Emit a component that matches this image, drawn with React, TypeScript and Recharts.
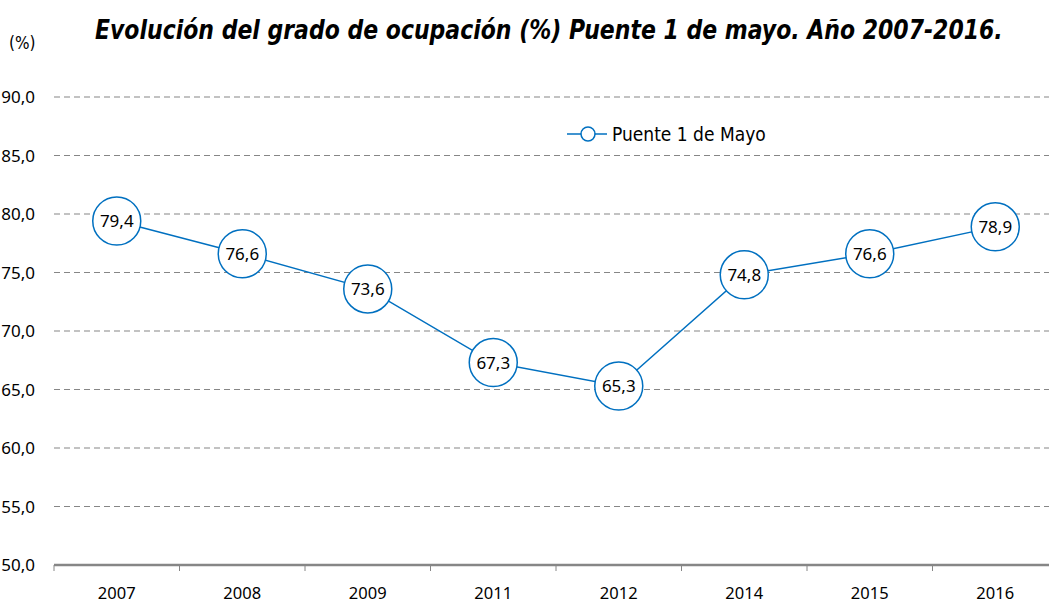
import React, { useLayoutEffect, useRef, useState } from 'react';
import { LineChart, Line, XAxis, YAxis, CartesianGrid, LabelList } from 'recharts';

const years = ['2007', '2008', '2009', '2011', '2012', '2014', '2015', '2016'];
const occupancy = [79.4, 76.6, 73.6, 67.3, 65.3, 74.8, 76.6, 78.9];
const yTicks = [50, 55, 60, 65, 70, 75, 80, 85, 90];
const seriesName = 'Puente 1 de Mayo';
const title = 'Evolución del grado de ocupación (%) Puente 1 de mayo. Año 2007-2016.';

const data = years.map((y, i) => ({ year: y, value: occupancy[i] }));

const BLUE = '#0070C0';
const GRAY = '#868686';
const FONT = "'Noto Sans', 'Open Sans', sans-serif";
const NARROW = "'Liberation Sans Narrow', 'DejaVu Sans Condensed', sans-serif";
const fmt = (v: number) => v.toFixed(1).replace('.', ',');

const XTick = (props: any) => {
  const { x, y, payload } = props;
  const half = payload && payload.offset ? payload.offset : 62.75;
  return (
    <g>
      <line x1={x - half} y1={y - 8} x2={x - half} y2={y - 2} stroke={GRAY} strokeWidth={1} />
      <text x={x} y={y + 26} textAnchor="middle" fontFamily={FONT} fontSize={16.5} fill="#000">
        {payload.value}
      </text>
    </g>
  );
};

const Title = () => {
  const ref = useRef<SVGTextElement | null>(null);
  const [sx, setSx] = useState(1);
  useLayoutEffect(() => {
    if (ref.current) {
      const w = ref.current.getComputedTextLength();
      if (w > 0) setSx(908 / w);
    }
  }, []);
  return (
    <g transform={`translate(95,39) scale(${sx},1)`}>
      <text ref={ref} x={0} y={0} fontFamily={NARROW} fontWeight="bold" fontStyle="italic" fontSize={27} fill="#000">
        {title}
      </text>
    </g>
  );
};

export default function App() {
  return (
    <div style={{ position: 'absolute', left: 0, top: 0, width: 1049, height: 604, overflow: 'hidden', background: '#fff' }}>
      <svg style={{ position: 'absolute', left: 0, top: 0 }} width={1049} height={70}>
        <Title />
        <text x={9} y={49} fontFamily={NARROW} fontSize={17} fill="#000">(%)</text>
      </svg>
      <div style={{ position: 'absolute', left: 0, top: 0 }}>
        <LineChart width={1058} height={604} data={data} margin={{ top: 97, right: 0, bottom: 9, left: 0 }}>
          <CartesianGrid vertical={false} stroke={GRAY} strokeDasharray="6 4" strokeWidth={1.2} />
          <XAxis dataKey="year" scale="band" height={30} axisLine={{ stroke: GRAY, strokeWidth: 2.5 }} tickLine={false} tick={<XTick />} interval={0} />
          <YAxis width={54} domain={[50, 90]} ticks={yTicks} tickFormatter={fmt} axisLine={false} tickLine={false} tickSize={0} tickMargin={19}
            tick={{ fill: '#000', fontSize: 17, fontFamily: FONT }} allowDataOverflow />
          <Line type="linear" dataKey="value" name={seriesName} stroke={BLUE} strokeWidth={1.5} isAnimationActive={false}
            dot={{ r: 24, fill: '#fff', stroke: BLUE, strokeWidth: 1.5 }} activeDot={false}>
            <LabelList dataKey="value" position="center" formatter={(v: any) => fmt(Number(v))}
              style={{ fill: '#000', fontSize: 17, fontFamily: FONT }} />
          </Line>
        </LineChart>
      </div>
      <svg style={{ position: 'absolute', left: 565, top: 122 }} width={220} height={28}>
        <line x1={2} y1={12} x2={42} y2={12} stroke={BLUE} strokeWidth={1.5} />
        <circle cx={23} cy={12} r={7} fill="#fff" stroke={BLUE} strokeWidth={1.5} />
        <text x={47} y={19} fontFamily={NARROW} fontSize={19} fill="#000">
          {seriesName}
        </text>
      </svg>
    </div>
  );
}
